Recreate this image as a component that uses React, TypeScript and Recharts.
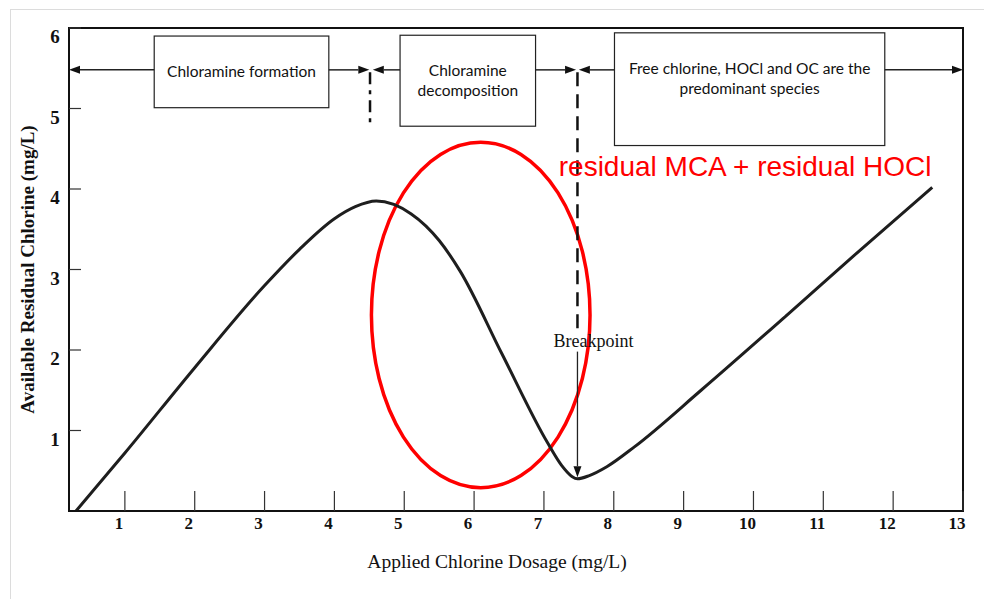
import React from "react";
import {
  LineChart,
  Line,
  XAxis,
  YAxis,
  ReferenceArea,
  ReferenceLine,
  ReferenceDot,
  Label,
} from "recharts";

// breakpoint chlorination curve
const dosage = [0.3, 1, 2, 3, 3.5, 4, 4.3, 4.6, 5.1, 5.5, 5.8, 6.4, 7.05, 7.25, 7.4, 7.48, 7.65, 7.9, 8.3, 9.25, 10.5, 11.5, 12.56];
const residual = [0, 0.72, 1.78, 2.8, 3.25, 3.63, 3.78, 3.85, 3.69, 3.36, 2.98, 1.95, 0.85, 0.57, 0.43, 0.4, 0.44, 0.55, 0.8, 1.5, 2.45, 3.22, 4.02];
const xTicks = [1, 2, 3, 4, 5, 6, 7, 8, 9, 10, 11, 12, 13];
const yTicks = [1, 2, 3, 4, 5, 6];

const phaseLabels = [
  ["Chloramine formation"],
  ["Chloramine", "decomposition"],
  ["Free chlorine, HOCl and OC are the", "predominant species"],
];

const data = dosage.map((d, i) => ({ dosage: d, residual: residual[i] }));

// annotation placement (data units)
const phaseBoxes = [
  { x1: 1.42, x2: 3.92, y1: 5.01, y2: 5.9 },
  { x1: 4.94, x2: 6.88, y1: 4.78, y2: 5.91 },
  { x1: 8.01, x2: 11.88, y1: 4.54, y2: 5.94 },
];
const arrowY = 5.48;
const arrows = [
  [1.42, 0.2],
  [3.92, 4.5],
  [4.94, 4.55],
  [6.88, 7.46],
  [8.01, 7.5],
  [11.88, 13],
];

const XTick = ({ x, y, payload }: any) => (
  <g>
    <line x1={x} y1={y} x2={x} y2={y - 20} stroke="#333" strokeWidth={1.2} />
    <text
      x={x - 6}
      y={y + 18}
      textAnchor="middle"
      fontFamily="Liberation Serif"
      fontWeight="bold"
      fontSize={17}
      fill="#111"
    >
      {payload.value}
    </text>
  </g>
);

const YTick = ({ x, y, payload }: any) => (
  <g>
    <line x1={x} y1={y} x2={x + 12} y2={y} stroke="#333" strokeWidth={1.2} />
    <text
      x={x - 14}
      y={y + 15}
      textAnchor="middle"
      fontFamily="Liberation Serif"
      fontWeight="bold"
      fontSize={19}
      fill="#111"
    >
      {payload.value}
    </text>
  </g>
);

const ArrowLine = (props: any) => {
  const { x1, y1, x2, y2 } = props;
  const w = props.arrowWidth ?? 1.5;
  const ang = Math.atan2(y2 - y1, x2 - x1);
  const len = 11;
  const half = 4;
  const bx = x2 - len * Math.cos(ang);
  const by = y2 - len * Math.sin(ang);
  const px = -Math.sin(ang) * half;
  const py = Math.cos(ang) * half;
  return (
    <g>
      <line x1={x1} y1={y1} x2={bx} y2={by} stroke="#222" strokeWidth={w} />
      <polygon points={`${x2},${y2} ${bx + px},${by + py} ${bx - px},${by - py}`} fill="#111" />
    </g>
  );
};

const PhaseBox = (lines: string[]) => (props: any) => {
  const { x, y, width, height } = props;
  return (
    <g>
      <rect x={x} y={y} width={width} height={height} fill="#fff" stroke="#222" strokeWidth={1.2} />
      {lines.map((t, i) => (
        <text
          key={i}
          x={x + width / 2}
          y={y + 41 + i * 20}
          textAnchor="middle"
          fontFamily="Lato"
          fontSize={15.5}
          fill="#111"
        >
          {t}
        </text>
      ))}
    </g>
  );
};

const Ellipse = (props: any) => {
  const { x, y, width, height } = props;
  return (
    <ellipse
      cx={x + width / 2}
      cy={y + height / 2}
      rx={width / 2}
      ry={height / 2}
      fill="none"
      stroke="#ff0000"
      strokeWidth={3.5}
    />
  );
};

export default function App() {
  return (
    <div style={{ position: "absolute", left: 0, top: 0, width: 984, height: 599, background: "#fff" }}>
      <div
        style={{
          position: "absolute",
          left: 10,
          top: 9,
          width: 974,
          height: 590,
          borderTop: "1px solid #dcdcdc",
          borderLeft: "1px solid #dcdcdc",
        }}
      />
      <LineChart
        width={984}
        height={599}
        data={data}
        margin={{ top: 28, right: 21, bottom: 8, left: 9 }}
        style={{ position: "absolute", left: 0, top: 0 }}
      >
        <XAxis
          dataKey="dosage"
          type="number"
          domain={[0.2, 13]}
          ticks={xTicks}
          allowDataOverflow
          height={80}
          tickSize={0}
          tickMargin={0}
          tickLine={false}
          axisLine={{ stroke: "#111", strokeWidth: 2 }}
          tick={XTick}
        >
          <Label
            value="Applied Chlorine Dosage (mg/L)"
            position="insideBottom"
            offset={23}
            dx={-19}
            fontFamily="Liberation Serif"
            fontSize={19.5}
            fill="#111"
          />
        </XAxis>
        <YAxis
          type="number"
          domain={[0, 6]}
          ticks={yTicks}
          allowDataOverflow
          width={60}
          tickSize={0}
          tickMargin={0}
          tickLine={false}
          axisLine={{ stroke: "#111", strokeWidth: 2 }}
          tick={YTick}
        >
          <Label
            content={(p: any) => {
              const vb = p.viewBox;
              return (
                <text
                  transform={`translate(${vb.x + 25},${vb.y + vb.height / 2}) rotate(-90)`}
                  textAnchor="middle"
                  fontFamily="Liberation Serif"
                  fontWeight="bold"
                  fontSize={19}
                  fill="#111"
                >
                  Available Residual Chlorine  (mg/L)
                </text>
              );
            }}
          />
        </YAxis>
        <ReferenceArea x1={0.2} x2={13} y1={0} y2={6} fill="none" stroke="#111" strokeWidth={2} />
        {arrows.map(([from, to], i) => (
          <ReferenceLine
            key={`a${i}`}
            segment={[{ x: from, y: arrowY }, { x: to, y: arrowY }]}
            shape={ArrowLine}
          />
        ))}
        <ReferenceLine
          segment={[{ x: 4.51, y: 5.45 }, { x: 4.51, y: 4.8 }]}
          stroke="#111"
          strokeWidth={2.5}
          strokeDasharray="12 6 4 6"
        />
        <ReferenceLine
          segment={[{ x: 7.48, y: 5.45 }, { x: 7.48, y: 2.2 }]}
          stroke="#111"
          strokeWidth={2.5}
          strokeDasharray="14 8"
        />
        <ReferenceLine
          segment={[{ x: 7.48, y: 1.98 }, { x: 7.48, y: 0.42 }]}
          shape={(p: any) => <ArrowLine {...p} arrowWidth={1.3} />}
        />
        <ReferenceDot
          x={7.71}
          y={2.04}
          r={0}
          shape={(p: any) => (
            <text x={p.cx} y={p.cy} textAnchor="middle" fontFamily="Liberation Serif" fontSize={18} fill="#111">
              Breakpoint
            </text>
          )}
        />
        {phaseBoxes.map((b, i) => (
          <ReferenceArea key={`b${i}`} x1={b.x1} x2={b.x2} y1={b.y1} y2={b.y2} shape={PhaseBox(phaseLabels[i])} />
        ))}
        <Line
          dataKey="residual"
          type="monotone"
          stroke="#1e1e1e"
          strokeWidth={3}
          dot={false}
          isAnimationActive={false}
        />
        <ReferenceArea x1={4.53} x2={7.66} y1={0.29} y2={4.58} shape={Ellipse} />
        <ReferenceDot
          x={9.88}
          y={4.25}
          r={0}
          shape={(p: any) => (
            <text x={p.cx} y={p.cy} textAnchor="middle" dominantBaseline="middle" fontFamily="Liberation Sans" fontSize={28} fill="#ff0000">
              residual MCA + residual HOCl
            </text>
          )}
        />
      </LineChart>
    </div>
  );
}
